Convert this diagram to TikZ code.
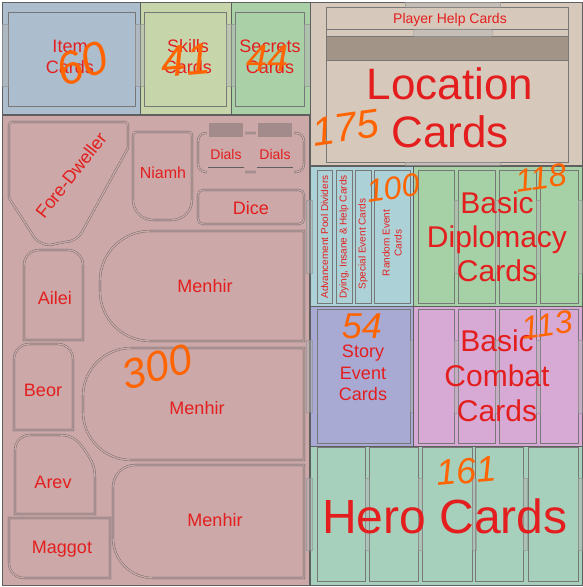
\documentclass[tikz,border=0pt]{standalone}
\usepackage{fontspec}
\setmainfont{Liberation Sans}
\definecolor{pinkc}{RGB}{204,168,168}
\definecolor{bluec}{RGB}{172,190,206}
\definecolor{skillc}{RGB}{198,214,170}
\definecolor{secc}{RGB}{170,208,168}
\definecolor{locc}{RGB}{214,200,186}
\definecolor{locdark}{RGB}{162,148,134}
\definecolor{cyanc}{RGB}{172,210,216}
\definecolor{diplc}{RGB}{166,208,166}
\definecolor{storyc}{RGB}{168,170,212}
\definecolor{combc}{RGB}{214,170,212}
\definecolor{heroc}{RGB}{166,208,188}
\definecolor{redt}{RGB}{228,30,30}
\definecolor{orng}{RGB}{255,100,0}
\definecolor{edgec}{RGB}{95,95,95}
\begin{document}
\begin{tikzpicture}[x=1pt,y=-1pt,
  box/.style={fill=#1, draw=edgec, line width=0.6pt},
  slot/.style={fill=#1, draw=edgec!85, line width=0.5pt},
  tab/.style={fill=black!30, fill opacity=0.45, draw=edgec!70, draw opacity=0.6, line width=0.3pt},
  well/.style={draw=edgec, double=pinkc, double distance=1.4pt, line width=0.35pt},
  lbl/.style={text=redt, align=center, inner sep=0pt},
  hand/.style={text=orng, inner sep=0pt, font=\fontsize{#1}{#1}\selectfont\itshape}]
\useasboundingbox (0,0) rectangle (583,587);
\fill[white] (0,0) rectangle (583,587);
% ---------- top-left card boxes
\draw[box=bluec] (2,2) rectangle (140,114);
\draw[slot=bluec] (8,12) rectangle (135,106);
\draw[box=skillc] (140,2) rectangle (231,114);
\draw[slot=skillc] (144,12) rectangle (226,106);
\draw[box=secc] (231,2) rectangle (310,114);
\draw[slot=secc] (235,12) rectangle (304,106);
\draw[tab] (2,24) rectangle (8,86);
\draw[tab] (135,24) rectangle (144,86);
\draw[tab] (226,24) rectangle (235,86);
\draw[tab] (304,24) rectangle (310,86);
\node[lbl, font=\fontsize{18}{21}\selectfont] (item) at (70,57) {Item\\Cards};
\node[lbl, font=\fontsize{18}{21}\selectfont] (skills) at (188,57) {Skills\\Cards};
\node[lbl, font=\fontsize{18}{21}\selectfont] (secrets) at (270,57) {Secrets\\Cards};
% ---------- pink tray
\draw[box=pinkc] (2,115) rectangle (309,585);
% Fore-Dweller
\draw[well] (12,122) -- (125,122) arc[start angle=-90,end angle=0,radius=3] -- (128,148)
  -- (82,232) arc[start angle=30,end angle=90,radius=20] -- (50,245)
  arc[start angle=90,end angle=140,radius=20] -- (9,198) -- (9,125)
  arc[start angle=180,end angle=270,radius=3] -- cycle;
\node[lbl, rotate=52, font=\fontsize{18}{18}\selectfont] (fore) at (71,175) {Fore-Dweller};
% Niamh
\draw[well] (136,132) -- (189,132) arc[start angle=-90,end angle=0,radius=3] -- (192,200)
  arc[start angle=0,end angle=90,radius=20] -- (153,220)
  arc[start angle=90,end angle=180,radius=20] -- (133,135)
  arc[start angle=180,end angle=270,radius=3] -- cycle;
\node[lbl, font=\fontsize{16}{16}\selectfont] (niamh) at (163,173) {Niamh};
% Dials
\draw[well, rounded corners=8] (198,133) rectangle (304,172);
\foreach \xa/\nm in {208/dialsa, 257/dialsb}{
  \draw[well, fill=pinkc] (\xa,122) rectangle ++(36,61);
  \draw[well, fill=pinkc!75!black!90] (\xa,122) rectangle ++(36,16);
  \draw[edgec, line width=0.4pt] (\xa,167) -- ++(36,0);
  \node[lbl, font=\fontsize{14}{14}\selectfont] (\nm) at (\xa+18,154) {Dials};
}
% Dice
\draw[well, rounded corners=5] (198,190) rectangle (304,224);
\node[lbl, font=\fontsize{18}{18}\selectfont] (dice) at (251,208) {Dice};
% Menhir 1
\draw[well] (304,231) -- (150,231) arc[start angle=270,end angle=180,radius=50]
  -- (100,291) arc[start angle=180,end angle=90,radius=50] -- (304,341) -- cycle;
\node[lbl, font=\fontsize{18}{18}\selectfont] (menhira) at (205,286) {Menhir};
% Ailei
\draw[well] (24,340) -- (24,265) arc[start angle=180,end angle=270,radius=15]
  -- (68,250) arc[start angle=270,end angle=360,radius=15] -- (83,340) -- cycle;
\node[lbl, font=\fontsize{18}{18}\selectfont] (ailei) at (55,298) {Ailei};
% Beor
\draw[well] (14,430) -- (14,359) arc[start angle=180,end angle=270,radius=15]
  -- (58,344) arc[start angle=270,end angle=360,radius=15] -- (73,430) -- cycle;
\node[lbl, font=\fontsize{18}{18}\selectfont] (beor) at (43,390) {Beor};
% Menhir 2
\draw[well] (304,348) -- (131,348) arc[start angle=270,end angle=180,radius=48]
  -- (83,412) arc[start angle=180,end angle=90,radius=48] -- (304,460) -- cycle;
\node[lbl, font=\fontsize{18}{18}\selectfont] (menhirb) at (197,408) {Menhir};
% Arev
\draw[well] (15,514) -- (15,450) arc[start angle=180,end angle=270,radius=15]
  -- (60,435) .. controls (72,435) and (78,440) .. (86,452)
  .. controls (92,461) and (95,467) .. (95,478) -- (95,514) -- cycle;
\node[lbl, font=\fontsize{18}{18}\selectfont] (arev) at (53,482) {Arev};
% Menhir 3
\draw[well] (304,465) -- (135,465) arc[start angle=270,end angle=180,radius=22]
  -- (113,538) arc[start angle=180,end angle=90,radius=40] -- (304,578) -- cycle;
\node[lbl, font=\fontsize{18}{18}\selectfont] (menhirc) at (215,520) {Menhir};
% Maggot
\draw[well] (9,518) -- (110,518) -- (110,578) -- (24,578)
  arc[start angle=90,end angle=180,radius=15] -- cycle;
\node[lbl, font=\fontsize{18}{18}\selectfont] (maggot) at (62,549) {Maggot};
% ---------- Location box
\draw[box=locc] (310,2) rectangle (582,165);
\draw[slot=locc] (326,7) rectangle (568,162);
\draw[slot=locc] (326,7) rectangle (568,29);
\draw[slot=locdark] (326,36) rectangle (568,60);
\draw[tab, rounded corners=3] (413,29) rectangle (493,37);
\draw[tab] (405,2) rectangle (500,7);
\draw[tab] (405,162) rectangle (500,166);
\node[lbl, font=\fontsize{14}{14}\selectfont] (help) at (450,20) {Player Help Cards};
\node[lbl, font=\fontsize{44}{48}\selectfont] (loc) at (450,108) {Location\\Cards};
% ---------- small dividers box
\draw[box=cyanc] (310,166) rectangle (413,306);
\draw[tab] (306,200) rectangle (312,273);
\foreach \xa/\xb in {317/332, 336/352, 355/371, 374/410}
  \draw[slot=cyanc] (\xa,170) rectangle (\xb,303);
\node[lbl, rotate=90, font=\fontsize{10}{11}\selectfont] (adv) at (324.5,237) {Advancement Pool Dividers};
\node[lbl, rotate=90, font=\fontsize{10}{11}\selectfont] (dying) at (344,237) {Dying, Insane \& Help Cards};
\node[lbl, rotate=90, font=\fontsize{10}{11}\selectfont] (special) at (363,244) {Special Event Cards};
\node[lbl, rotate=90, font=\fontsize{10}{12}\selectfont] (random) at (392,243) {Random Event\\Cards};
% ---------- diplomacy
\draw[box=diplc] (413,166) rectangle (582,306);
\foreach \xa/\xb in {418/454, 458/495, 499/536, 540/578}
  \draw[slot=diplc] (\xa,170) rectangle (\xb,303);
\foreach \xa in {454, 495, 536, 578}
  \draw[tab] (\xa,200) rectangle ++(4,73);
\node[lbl, font=\fontsize{30}{34}\selectfont] (dipl) at (497,237) {Basic\\Diplomacy\\Cards};
% ---------- story
\draw[box=storyc] (310,306) rectangle (413,446);
\draw[slot=storyc] (317,309) rectangle (410,443);
\draw[tab] (306,340) rectangle (312,412);
\draw[tab] (410,340) rectangle (416,412);
\node[lbl, font=\fontsize{18}{21.5}\selectfont] (story) at (363,373) {Story\\Event\\Cards};
% ---------- combat
\draw[box=combc] (413,306) rectangle (582,446);
\foreach \xa/\xb in {418/454, 458/495, 499/536, 540/578}
  \draw[slot=combc] (\xa,309) rectangle (\xb,443);
\foreach \xa in {454, 495, 536, 578}
  \draw[tab] (\xa,340) rectangle ++(4,73);
\node[lbl, font=\fontsize{30}{35}\selectfont] (comb) at (497,376) {Basic\\Combat\\Cards};
% ---------- hero
\draw[box=heroc] (310,446) rectangle (582,585);
\draw[tab] (306,478) rectangle (312,550);
\foreach \xa/\xb in {317/365, 369/418, 422/472, 475/523, 528/578}
  \draw[slot=heroc] (\xa,447) rectangle (\xb,581);
\foreach \xa in {365, 418, 472, 523, 578}
  \draw[tab] (\xa,478) rectangle ++(4,72);
\node[lbl, font=\fontsize{48}{48}\selectfont] (hero) at (445,516) {Hero Cards};
% ---------- handwritten counts
\node[hand=46, rotate=20] (n60) at (82,64) {60};
\node[hand=44, rotate=5] (n41) at (186,60) {41};
\node[hand=38] (n44) at (268,58) {44};
\node[hand=40, rotate=8] (n175) at (346,128) {175};
\node[hand=32, rotate=8] (n100) at (393,188) {100};
\node[hand=32, rotate=8] (n118) at (541,178) {118};
\node[hand=36] (n54) at (362,326) {54};
\node[hand=32, rotate=8] (n113) at (547,325) {113};
\node[hand=36, rotate=5] (n161) at (466,471) {161};
\node[hand=42, rotate=15] (n300) at (157,367) {300};
\end{tikzpicture}
\end{document}
